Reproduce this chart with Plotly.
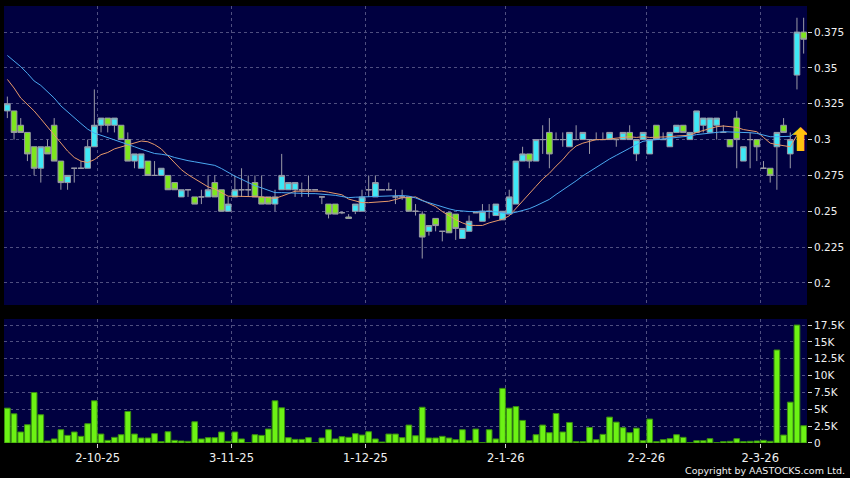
import plotly.graph_objects as go

# ---------------- data ----------------
dates = [
    "2025-09-11", "2025-09-12", "2025-09-15", "2025-09-16", "2025-09-17", "2025-09-18", "2025-09-19",
    "2025-09-22", "2025-09-23", "2025-09-24", "2025-09-25", "2025-09-26", "2025-09-29", "2025-09-30",
    "2025-10-02", "2025-10-03", "2025-10-06", "2025-10-08", "2025-10-09", "2025-10-10", "2025-10-13",
    "2025-10-14", "2025-10-15", "2025-10-16", "2025-10-17", "2025-10-20", "2025-10-21", "2025-10-22",
    "2025-10-23", "2025-10-24", "2025-10-27", "2025-10-28", "2025-10-30", "2025-10-31",
    "2025-11-03", "2025-11-04", "2025-11-05", "2025-11-06", "2025-11-07", "2025-11-10", "2025-11-11",
    "2025-11-12", "2025-11-13", "2025-11-14", "2025-11-17", "2025-11-18", "2025-11-19", "2025-11-20",
    "2025-11-21", "2025-11-24", "2025-11-25", "2025-11-26", "2025-11-27", "2025-11-28",
    "2025-12-01", "2025-12-02", "2025-12-03", "2025-12-04", "2025-12-05", "2025-12-08", "2025-12-09",
    "2025-12-10", "2025-12-11", "2025-12-12", "2025-12-15", "2025-12-16", "2025-12-17", "2025-12-18",
    "2025-12-19", "2025-12-22", "2025-12-23", "2025-12-24", "2025-12-29", "2025-12-30", "2025-12-31",
    "2026-01-02", "2026-01-05", "2026-01-06", "2026-01-07", "2026-01-08", "2026-01-09", "2026-01-12",
    "2026-01-13", "2026-01-14", "2026-01-15", "2026-01-16", "2026-01-19", "2026-01-20", "2026-01-21",
    "2026-01-22", "2026-01-23", "2026-01-26", "2026-01-27", "2026-01-28", "2026-01-29", "2026-01-30",
    "2026-02-02", "2026-02-03", "2026-02-04", "2026-02-05", "2026-02-06", "2026-02-09", "2026-02-10",
    "2026-02-11", "2026-02-12", "2026-02-13", "2026-02-16", "2026-02-20", "2026-02-23", "2026-02-24",
    "2026-02-25", "2026-02-26", "2026-02-27",
    "2026-03-02", "2026-03-03", "2026-03-04", "2026-03-05", "2026-03-06", "2026-03-09", "2026-03-10",
]

opens = [
    0.320, 0.320, 0.310, 0.305, 0.295, 0.280, 0.295, 0.310, 0.285, 0.270,
    0.280, 0.280, 0.280, 0.295, 0.310, 0.315, 0.310, 0.310, 0.300, 0.285,
    0.280, 0.285, 0.275, 0.275, 0.275, 0.270, 0.260, 0.265, 0.260, 0.260,
    0.260, 0.270, 0.265, 0.250, 0.260, 0.265, 0.265, 0.270, 0.260, 0.260,
    0.255, 0.265, 0.265, 0.265, 0.265, 0.265, 0.265, 0.260, 0.255, 0.255,
    0.249, 0.246, 0.250, 0.250, 0.265, 0.260, 0.265, 0.265, 0.260, 0.260,
    0.260, 0.250, 0.248, 0.236, 0.245, 0.236, 0.249, 0.248, 0.231, 0.236,
    0.249, 0.243, 0.250, 0.247, 0.244, 0.248, 0.255, 0.285, 0.290, 0.285,
    0.300, 0.305, 0.300, 0.300, 0.295, 0.300, 0.300, 0.300, 0.300, 0.300,
    0.300, 0.300, 0.300, 0.305, 0.290, 0.300, 0.290, 0.310, 0.300, 0.295,
    0.305, 0.310, 0.300, 0.305, 0.310, 0.305, 0.310, 0.305, 0.300, 0.315,
    0.285, 0.300, 0.300, 0.280, 0.280, 0.295, 0.310, 0.290, 0.345, 0.375,
]
highs = [
    0.330, 0.320, 0.315, 0.305, 0.295, 0.295, 0.300, 0.315, 0.285, 0.275,
    0.280, 0.285, 0.300, 0.335, 0.315, 0.315, 0.315, 0.310, 0.305, 0.290,
    0.290, 0.285, 0.285, 0.280, 0.275, 0.270, 0.265, 0.265, 0.260, 0.265,
    0.275, 0.275, 0.265, 0.260, 0.275, 0.280, 0.275, 0.275, 0.275, 0.260,
    0.265, 0.290, 0.270, 0.270, 0.270, 0.275, 0.265, 0.260, 0.255, 0.255,
    0.250, 0.248, 0.255, 0.265, 0.275, 0.275, 0.265, 0.270, 0.265, 0.265,
    0.260, 0.255, 0.250, 0.240, 0.245, 0.236, 0.250, 0.248, 0.238, 0.247,
    0.250, 0.255, 0.255, 0.255, 0.250, 0.265, 0.285, 0.295, 0.290, 0.300,
    0.310, 0.315, 0.305, 0.305, 0.305, 0.310, 0.305, 0.300, 0.305, 0.305,
    0.305, 0.300, 0.305, 0.310, 0.300, 0.305, 0.300, 0.310, 0.305, 0.305,
    0.310, 0.310, 0.305, 0.320, 0.315, 0.315, 0.315, 0.310, 0.300, 0.320,
    0.295, 0.305, 0.300, 0.285, 0.280, 0.305, 0.315, 0.305, 0.385, 0.385,
]
lows = [
    0.315, 0.300, 0.305, 0.285, 0.275, 0.270, 0.290, 0.285, 0.265, 0.265,
    0.270, 0.280, 0.280, 0.295, 0.305, 0.305, 0.305, 0.300, 0.285, 0.280,
    0.280, 0.275, 0.275, 0.275, 0.265, 0.265, 0.260, 0.260, 0.255, 0.255,
    0.260, 0.260, 0.250, 0.250, 0.260, 0.260, 0.260, 0.260, 0.255, 0.255,
    0.250, 0.265, 0.265, 0.260, 0.260, 0.260, 0.265, 0.255, 0.245, 0.248,
    0.248, 0.245, 0.248, 0.250, 0.260, 0.260, 0.265, 0.265, 0.255, 0.258,
    0.250, 0.247, 0.217, 0.233, 0.236, 0.229, 0.235, 0.230, 0.231, 0.236,
    0.249, 0.243, 0.245, 0.247, 0.244, 0.248, 0.255, 0.285, 0.280, 0.285,
    0.290, 0.280, 0.300, 0.295, 0.295, 0.300, 0.300, 0.290, 0.300, 0.300,
    0.300, 0.295, 0.300, 0.300, 0.285, 0.300, 0.290, 0.300, 0.300, 0.295,
    0.305, 0.305, 0.300, 0.305, 0.305, 0.305, 0.300, 0.305, 0.295, 0.280,
    0.285, 0.280, 0.285, 0.280, 0.270, 0.265, 0.305, 0.280, 0.335, 0.360,
]
closes = [
    0.325, 0.305, 0.305, 0.290, 0.280, 0.295, 0.290, 0.285, 0.270, 0.275,
    0.280, 0.280, 0.295, 0.310, 0.315, 0.310, 0.315, 0.300, 0.285, 0.290,
    0.290, 0.275, 0.275, 0.280, 0.265, 0.265, 0.265, 0.265, 0.255, 0.260,
    0.265, 0.260, 0.250, 0.255, 0.265, 0.265, 0.265, 0.260, 0.255, 0.255,
    0.260, 0.275, 0.270, 0.270, 0.265, 0.265, 0.265, 0.260, 0.248, 0.248,
    0.249, 0.245, 0.255, 0.260, 0.265, 0.270, 0.265, 0.265, 0.260, 0.260,
    0.250, 0.250, 0.232, 0.240, 0.240, 0.236, 0.235, 0.238, 0.238, 0.243,
    0.249, 0.250, 0.250, 0.255, 0.250, 0.260, 0.285, 0.290, 0.285, 0.300,
    0.300, 0.290, 0.300, 0.300, 0.305, 0.300, 0.305, 0.300, 0.300, 0.300,
    0.305, 0.300, 0.305, 0.300, 0.300, 0.305, 0.300, 0.300, 0.300, 0.305,
    0.310, 0.305, 0.305, 0.320, 0.315, 0.315, 0.315, 0.305, 0.295, 0.300,
    0.295, 0.300, 0.295, 0.280, 0.275, 0.305, 0.305, 0.300, 0.375, 0.370,
]
volumes = [
    5170, 4330, 1630, 2710, 7490, 4190, 300, 600, 1970, 1130,
    1630, 990, 2860, 6260, 1330, 390, 840, 1230, 4680, 1330,
    740, 740, 1380, 200, 1670, 390, 300, 250, 3150, 600,
    790, 790, 1630, 250, 1630, 600, 50, 1230, 1130, 2070,
    6260, 5220, 790, 540, 540, 790, 20, 740, 1970, 600,
    940, 840, 1380, 1180, 1670, 600, 150, 1330, 1330, 790,
    2660, 1080, 5300, 740, 740, 990, 740, 490, 1970, 340,
    2070, 50, 1970, 600, 8100, 5170, 5400, 3350, 340, 1230,
    2660, 1530, 4380, 1630, 3050, 200, 200, 2300, 490, 1280,
    3840, 3100, 2270, 1530, 2200, 340, 3550, 200, 490, 640,
    1230, 840, 50, 340, 340, 640, 50, 200, 250, 640,
    200, 250, 300, 390, 250, 13800, 1180, 6060, 17500, 2560,
]
ma10 = [
    0.3420, 0.3360, 0.3290, 0.3245, 0.3200, 0.3145, 0.3090, 0.3035, 0.2980, 0.2920,
    0.2875, 0.2850, 0.2840, 0.2860, 0.2895, 0.2910, 0.2935, 0.2950, 0.2965, 0.2980,
    0.2990, 0.2985, 0.2965, 0.2935, 0.2885, 0.2840, 0.2790, 0.2755, 0.2725, 0.2695,
    0.2670, 0.2655, 0.2630, 0.2605, 0.2605, 0.2605, 0.2605, 0.2600, 0.2600, 0.2595,
    0.2590, 0.2605, 0.2625, 0.2640, 0.2640, 0.2640, 0.2640, 0.2640, 0.2633, 0.2626,
    0.2615, 0.2585, 0.2570, 0.2560, 0.2560, 0.2565, 0.2565, 0.2570, 0.2582, 0.2594,
    0.2595, 0.2600, 0.2577, 0.2557, 0.2532, 0.2498, 0.2468, 0.2441, 0.2419, 0.2402,
    0.2401, 0.2401, 0.2419, 0.2434, 0.2444, 0.2468, 0.2518, 0.2570, 0.2617, 0.2674,
    0.2725, 0.2765, 0.2815, 0.2860, 0.2915, 0.2955, 0.2975, 0.2985, 0.3000, 0.3000,
    0.3005, 0.3015, 0.3020, 0.3020, 0.3015, 0.3020, 0.3015, 0.3015, 0.3015, 0.3020,
    0.3025, 0.3030, 0.3030, 0.3050, 0.3065, 0.3075, 0.3090, 0.3095, 0.3090, 0.3085,
    0.3070, 0.3065, 0.3055, 0.3015, 0.2975, 0.2965, 0.2955, 0.2950, 0.3030, None,
]
ma20 = [
    0.3587, 0.3548, 0.3509, 0.3462, 0.3409, 0.3378, 0.3337, 0.3290, 0.3235, 0.3192,
    0.3151, 0.3112, 0.3073, 0.3045, 0.3030, 0.3015, 0.3000, 0.2985, 0.2970, 0.2950,
    0.2933, 0.2918, 0.2903, 0.2898, 0.2890, 0.2875, 0.2863, 0.2853, 0.2845, 0.2838,
    0.2830, 0.2820, 0.2798, 0.2770, 0.2745, 0.2723, 0.2698, 0.2678, 0.2663, 0.2645,
    0.2630, 0.2630, 0.2628, 0.2623, 0.2623, 0.2623, 0.2623, 0.2620, 0.2617, 0.2611,
    0.2603, 0.2595, 0.2598, 0.2600, 0.2600, 0.2603, 0.2603, 0.2605, 0.2608, 0.2610,
    0.2605, 0.2593, 0.2574, 0.2559, 0.2546, 0.2532, 0.2517, 0.2506, 0.2501, 0.2498,
    0.2498, 0.2501, 0.2498, 0.2496, 0.2488, 0.2483, 0.2493, 0.2506, 0.2518, 0.2538,
    0.2563, 0.2583, 0.2617, 0.2647, 0.2680, 0.2712, 0.2747, 0.2778, 0.2809, 0.2837,
    0.2865, 0.2890, 0.2918, 0.2940, 0.2965, 0.2988, 0.2995, 0.3000, 0.3008, 0.3010,
    0.3015, 0.3023, 0.3025, 0.3035, 0.3040, 0.3048, 0.3053, 0.3055, 0.3053, 0.3053,
    0.3048, 0.3048, 0.3043, 0.3033, 0.3020, 0.3020, 0.3023, 0.3023, 0.3060, None,
]
month_tick_dates = ["2025-10-02", "2025-11-03", "2025-12-01", "2026-01-02", "2026-02-02", "2026-03-02"]
month_tick_labels = ["2-10-25", "3-11-25", "1-12-25", "2-1-26", "2-2-26", "2-3-26"]
price_ticks = [0.2, 0.225, 0.25, 0.275, 0.3, 0.325, 0.35, 0.375]
price_tick_labels = ["0.2", "0.225", "0.25", "0.275", "0.3", "0.325", "0.35", "0.375"]
vol_ticks = [0, 2500, 5000, 7500, 10000, 12500, 15000, 17500]
vol_tick_labels = ["0", "2.5K", "5K", "7.5K", "10K", "12.5K", "15K", "17.5K"]
signal_price = [0.2975]
signal_label = ["\u2B06"]

# ---------------- figure ----------------
idx = list(range(len(dates)))
month_pos = [dates.index(d) - 0.5 for d in month_tick_dates]
signal_x = [len(dates) - 1.5]

BG = "#000040"
GRID = "#4f4f80"
CYAN = "#3ee8f6"
GREEN = "#7ee61e"
WICK = "#9a9aa6"
TXT = "#f0f0f0"
FONT = "DejaVu Sans"

fig = go.Figure()

fig.add_trace(go.Candlestick(
    x=idx, open=opens, high=highs, low=lows, close=closes,
    increasing=dict(fillcolor=CYAN, line=dict(color=WICK, width=1)),
    decreasing=dict(fillcolor=GREEN, line=dict(color=WICK, width=1)),
    whiskerwidth=0, xaxis="x", yaxis="y", hoverinfo="skip", showlegend=False,
))
fig.add_trace(go.Scatter(x=idx, y=ma10, mode="lines", line=dict(color="#e89a6a", width=1),
                         xaxis="x", yaxis="y", hoverinfo="skip", showlegend=False))
fig.add_trace(go.Scatter(x=idx, y=ma20, mode="lines", line=dict(color="#4aa8f0", width=1),
                         xaxis="x", yaxis="y", hoverinfo="skip", showlegend=False))
fig.add_trace(go.Scatter(x=signal_x, y=signal_price, mode="text", text=signal_label,
                         textfont=dict(color="#ffc20e", size=32, family=FONT),
                         textposition="middle center",
                         xaxis="x", yaxis="y", hoverinfo="skip", showlegend=False))
fig.add_trace(go.Bar(x=idx, y=volumes, width=0.85,
                     marker=dict(color="#6cf214", line=dict(color="#3a8f10", width=1)),
                     xaxis="x2", yaxis="y2", hoverinfo="skip", showlegend=False))

grid_common = dict(showgrid=True, gridcolor=GRID, gridwidth=1, griddash="3px,3px",
                   zeroline=False, showline=False)

fig.update_layout(
    width=850, height=478, autosize=False,
    paper_bgcolor="#000000", plot_bgcolor=BG,
    margin=dict(l=4, r=43, t=6, b=35),
    boxgap=0.08, boxgroupgap=0.08,
    bargap=0.15,
    font=dict(family=FONT, color=TXT, size=11),
    xaxis=dict(domain=[0, 1], anchor="y", range=[-0.5, len(dates) - 0.5],
               tickvals=month_pos, ticktext=month_tick_labels, showticklabels=False,
               ticks="", rangeslider=dict(visible=False), **grid_common),
    xaxis2=dict(domain=[0, 1], anchor="y2", matches="x", range=[-0.5, len(dates) - 0.5],
                tickvals=month_pos, ticktext=month_tick_labels, showticklabels=True,
                ticks="outside", ticklen=4, tickcolor="#d0d0d0",
                tickfont=dict(size=11.5, color=TXT, family=FONT), **grid_common),
    yaxis=dict(domain=[0.3158, 1], anchor="x", side="right", range=[0.1846, 0.3932],
               tickvals=price_ticks, ticktext=price_tick_labels,
               ticks="outside", ticklen=4, tickcolor="#d0d0d0",
               tickfont=dict(size=10.5, color=TXT, family=FONT), **grid_common),
    yaxis2=dict(domain=[0, 0.2838], anchor="x2", side="right", range=[0, 18400],
                tickvals=vol_ticks, ticktext=vol_tick_labels,
                ticks="outside", ticklen=4, tickcolor="#d0d0d0",
                tickfont=dict(size=10.5, color=TXT, family=FONT), **grid_common),
    annotations=[dict(text="Copyright by AASTOCKS.com Ltd.", xref="paper", yref="paper",
                      x=1.0498, y=-0.064, xanchor="right", yanchor="middle", showarrow=False,
                      font=dict(size=9.5, color=TXT, family=FONT))],
)

fig.write_html(
    "out.html",
    config={"displayModeBar": False, "staticPlot": True},
    post_script="document.body.style.margin='0';document.body.style.padding='0';"
                "document.body.style.background='#000000';",
)
